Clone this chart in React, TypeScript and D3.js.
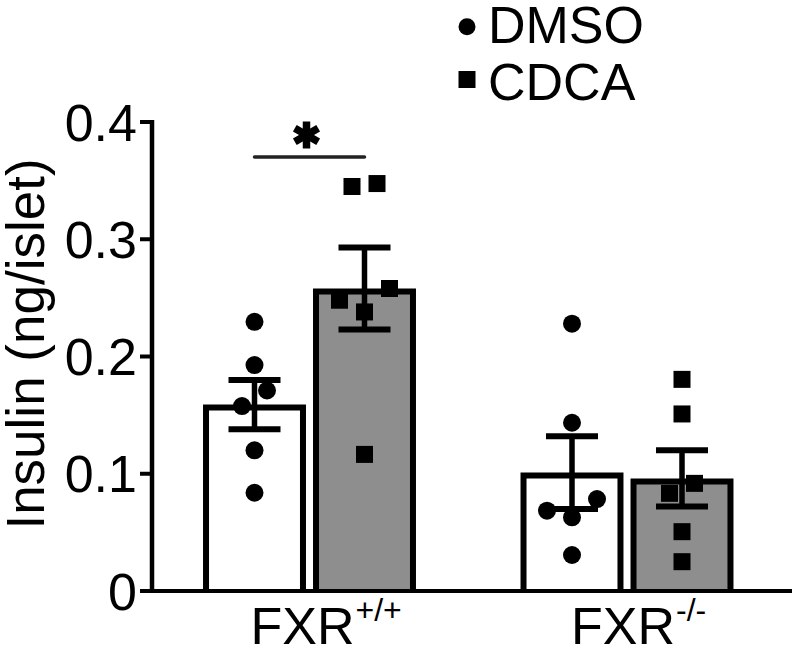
import React from "react";
import * as d3 from "d3";

const groups = ["FXR+/+", "FXR-/-"];
const groupBase = ["FXR", "FXR"];
const groupSup = ["+/+", "-/-"];
const series = ["DMSO", "CDCA"];
const means = [
  [0.159, 0.258],
  [0.101, 0.096],
];
const sems = [
  [0.021, 0.035],
  [0.031, 0.024],
];
const dmsoWT = [0.2296, 0.1927, 0.171, 0.1577, 0.12, 0.0838];
const cdcaWT = [0.345, 0.3475, 0.258, 0.248, 0.238, 0.1165];
const dmsoKO = [0.228, 0.1435, 0.0784, 0.0685, 0.0628, 0.0307];
const cdcaKO = [0.1805, 0.151, 0.0918, 0.0833, 0.0506, 0.025];
const points = [
  [dmsoWT, cdcaWT],
  [dmsoKO, cdcaKO],
];
const yTicks = [0, 0.1, 0.2, 0.3, 0.4];
const yTickLabels = ["0", "0.1", "0.2", "0.3", "0.4"];
const fills = ["#ffffff", "#8e8e8e"];

const FONT = "'Liberation Sans', Arial, Helvetica, sans-serif";

function dodge(vals: number[], thr: number, step: number) {
  const idx = vals.map((v, i) => i).sort((a, b) => vals[b] - vals[a]);
  const clusters: number[][] = [];
  idx.forEach((i) => {
    const c = clusters[clusters.length - 1];
    if (c && vals[c[0]] - vals[i] < thr) c.push(i);
    else clusters.push([i]);
  });
  const off = new Array(vals.length).fill(0);
  const patterns: Record<number, number[]> = {
    1: [0],
    2: [0.5, -0.5],
    3: [1, -1, 0],
    4: [1.5, -1.5, 0.5, -0.5],
  };
  clusters.forEach((c) => {
    const p = patterns[c.length] || c.map((_, k) => k - (c.length - 1) / 2);
    c.forEach((i, k) => (off[i] = p[k] * step));
  });
  return off;
}

export default function App() {
  const W = 792,
    H = 650;
  const y = d3.scaleLinear().domain([0, 0.4]).range([591, 122]);
  const x0 = d3.scalePoint<string>().domain(groups).range([309.5, 627]);
  const x1 = d3.scaleBand<string>().domain(series).range([-110, 110]);
  const bw = x1.bandwidth() * 0.936; // outer width
  const sw = 6;

  const cx = (gi: number, si: number) =>
    (x0(groups[gi]) as number) + (x1(series[si]) as number) + x1.bandwidth() / 2;

  return (
    <svg
      width={W}
      height={H}
      style={{ position: "absolute", left: 0, top: 0, background: "#fff" }}
      fontFamily={FONT}
    >
      {/* bars */}
      {groups.map((g, gi) =>
        series.map((s, si) => {
          const c = cx(gi, si);
          const l = c - bw / 2 + sw / 2;
          const r = c + bw / 2 - sw / 2;
          const t = y(means[gi][si]) + sw / 2;
          const b = y(0);
          return (
            <path
              key={g + s}
              d={`M${l},${b}V${t}H${r}V${b}`}
              fill={fills[si]}
              stroke="#000"
              strokeWidth={sw}
              strokeLinejoin="miter"
            />
          );
        })
      )}
      {/* points */}
      {groups.map((g, gi) =>
        series.map((s, si) => {
          const c = cx(gi, si);
          const vals = points[gi][si];
          const offs = dodge(vals, 0.021, 25);
          return vals.map((v, k) =>
            si === 0 ? (
              <circle key={g + s + k} cx={c + offs[k]} cy={y(v)} r={9} fill="#000" />
            ) : (
              <rect
                key={g + s + k}
                x={c + offs[k] - 8.5}
                y={y(v) - 8.5}
                width={17}
                height={17}
                fill="#000"
              />
            )
          );
        })
      )}
      {/* error bars */}
      {groups.map((g, gi) =>
        series.map((s, si) => {
          const c = cx(gi, si);
          const m = means[gi][si];
          const e = sems[gi][si];
          return (
            <g key={"e" + g + s} stroke="#000">
              <line x1={c} x2={c} y1={y(m + e)} y2={y(m - e)} strokeWidth={5.5} />
              <line x1={c - 26} x2={c + 26} y1={y(m + e)} y2={y(m + e)} strokeWidth={6} />
              <line x1={c - 26} x2={c + 26} y1={y(m - e)} y2={y(m - e)} strokeWidth={6} />
            </g>
          );
        })
      )}
      {/* axes */}
      <line x1={152} x2={152} y1={y(0.4) - 2} y2={y(0) + 2} stroke="#000" strokeWidth={4.5} />
      <line x1={150} x2={792} y1={y(0)} y2={y(0)} stroke="#000" strokeWidth={4} />
      {yTicks.map((t, i) => (
        <g key={"t" + i}>
          <line x1={140} x2={152} y1={y(t)} y2={y(t)} stroke="#000" strokeWidth={4} />
          <text
            x={137}
            y={y(t)}
            dy="0.36em"
            textAnchor="end"
            fontSize={52}
            fill="#000"
          >
            {yTickLabels[i]}
          </text>
        </g>
      ))}
      <text
        transform={`translate(44,344) rotate(-90)`}
        textAnchor="middle"
        fontSize={53}
        fill="#000"
      >
        Insulin (ng/islet)
      </text>
      {/* x labels */}
      {groups.map((g, gi) => (
        <text
          key={"xl" + g}
          x={(x0(g) as number) - 59 + gi * 3}
          y={644}
          fontSize={52}
          fill="#000"
        >
          {groupBase[gi]}
          <tspan dx={1} dy={-23} fontSize={32}>
            {groupSup[gi]}
          </tspan>
        </text>
      ))}
      {/* significance */}
      <line
        x1={cx(0, 0)}
        x2={cx(0, 1)}
        y1={157}
        y2={157}
        stroke="#222"
        strokeWidth={3.5}
        strokeLinecap="round"
      />
      <g transform={`translate(${(cx(0, 0) + cx(0, 1)) / 2 - 3},135)`} stroke="#000" strokeWidth={7.5}>
        {[90, 30, 150].map((a) => {
          const r = 13.5;
          const rad = (a * Math.PI) / 180;
          return (
            <line
              key={a}
              x1={-r * Math.cos(rad)}
              y1={-r * Math.sin(rad)}
              x2={r * Math.cos(rad)}
              y2={r * Math.sin(rad)}
            />
          );
        })}
      </g>
      {/* legend */}
      <circle cx={467} cy={26.7} r={8.5} fill="#000" />
      <text x={488} y={42.5} fontSize={52} fill="#000">
        {series[0]}
      </text>
      <rect x={458.5} y={71} width={17} height={17} fill="#000" />
      <text x={488} y={99.5} fontSize={52} fill="#000">
        {series[1]}
      </text>
    </svg>
  );
}
